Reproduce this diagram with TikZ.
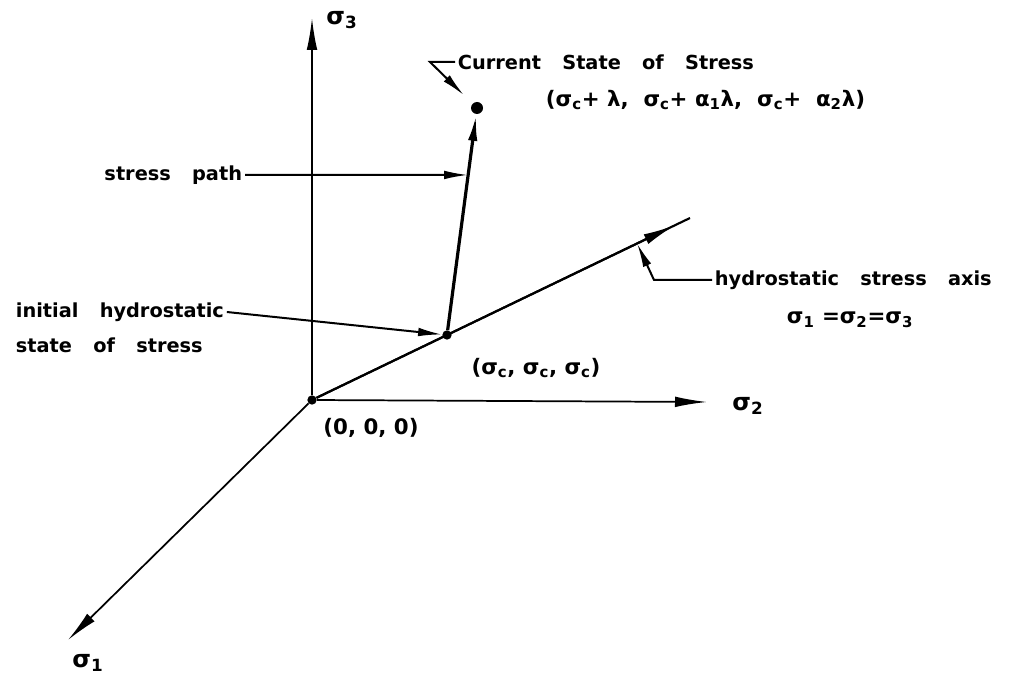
\documentclass[tikz,border=0pt]{standalone}
\usepackage{fontspec}
\setmainfont{DejaVu Sans}
\usetikzlibrary{positioning, arrows.meta, calc}

\newcommand\sg[1]{σ\textsubscript{#1}}

\begin{document}
\begin{tikzpicture}[x=0.75pt, y=-0.75pt,
  dot/.style={circle, fill, inner sep=0pt, minimum size=#1},
  txt/.style={font={\fontsize{14.5}{17}\selectfont\bfseries\spaceskip=1.1em\relax}, inner sep=2pt},
  mth/.style={font={\fontsize{16}{19}\selectfont\bfseries}, inner sep=2pt},
  big/.style={font={\fontsize{18}{20}\selectfont\bfseries}, inner sep=2pt},
  axis/.style={line width=1.3pt, -{Latex[length=24pt, width=8pt]}},
  lead/.style={line width=1.5pt, -{Latex[length=18pt, width=6.5pt]}},
  spath/.style={line width=2.4pt, -{Latex[length=20pt, width=7pt]}}]

\useasboundingbox (0,0) rectangle (1014,677);

% points in stress space
\node[dot=7pt] (O) at (312,400) {};
\node[dot=7pt] (init) at (447,335) {};
\node[dot=9pt] (cur) at (477,108) {};
\coordinate (s3) at (312,18);
\coordinate (s2) at (707,402);
\coordinate (s1) at (68,640);
\coordinate (hend) at (690,218);

% axes
\draw[axis] (O) -- (s3);
\draw[axis] (O) -- (s2);
\draw[axis] (O) -- (s1);
\draw[line width=1.6pt] (O) -- (hend);
\draw[axis, line width=1.6pt] (O) -- ($(O)!0.96!(hend)$);

\node[big] (l3) at (342,20) {\sg{3}};
\node[big] (l2) at (748,406) {\sg{2}};
\node[big] (l1) at (88,663) {\sg{1}};
\node[mth] (zero) at (371,428) {(0, 0, 0)};
\node[mth] (hyd) at (536,368) {(\sg{c}, \sg{c}, \sg{c})};

% stress path
\draw[spath] (init) -- (cur);

% labels with leaders
\node[txt, anchor=west] (curtxt) at (455,62) {Current State of Stress};
\node[mth, anchor=west] (curval) at (543,100) {(\sg{c}+ λ, \ \sg{c}+ α\textsubscript{1}λ, \ \sg{c}+ \ α\textsubscript{2}λ)};
\coordinate (cbend) at (430,62);
\draw[lead, shorten >=9pt] (curtxt.west) -- (cbend) -- (cur);

\node[txt, anchor=east] (sptxt) at (245,175) {stress path};
\draw[lead] (sptxt.east) -- ($(init)!0.705!(cur)$);

\node[txt, anchor=west] (ini1) at (13,312) {initial hydrostatic};
\node[txt, anchor=west] (ini2) at (13,345) {state of stress};
\draw[lead] (ini1.east) -- (init);

\node[txt, anchor=west] (hax) at (712,280) {hydrostatic stress axis};
\node[mth] (heq) at (850,320) {\sg{1} =\sg{2}=\sg{3}};
\coordinate (hbend) at (654,280);
\draw[lead] (hax.west) -- (hbend) -- ($(O)!0.86!(hend)$);

\end{tikzpicture}
\end{document}
